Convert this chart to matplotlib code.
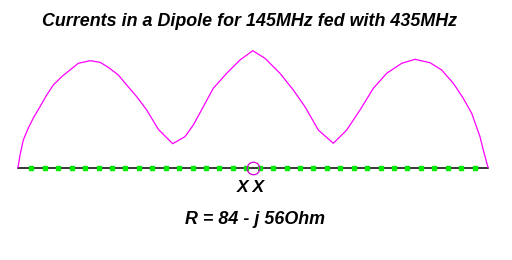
import numpy as np
import matplotlib
matplotlib.use("Agg")
import matplotlib.pyplot as plt

# current magnitude along the dipole (position in % of length, relative current)
pos = [0, 0.43, 1.13, 2.19, 3.26, 4.68, 6.11, 7.51, 9.30, 11.06, 12.83, 15.32, 17.45,
       19.21, 21.34, 23.13, 25.26, 27.38, 29.85, 32.91, 35.53, 37.30, 39.43, 41.55,
       44.40, 47.23, 49.94, 52.55, 55.74, 58.57, 61.06, 63.89, 67.09, 69.94, 72.77,
       75.60, 78.45, 81.64, 84.47, 87.66, 90.15, 92.62, 94.74, 96.53, 98.30, 99.00, 100]
current = [0, 12.5, 27.5, 39.5, 49.5, 60.8, 72.5, 82.5, 90.8, 97.5, 104.2, 106.8, 105.2,
           100.2, 92.5, 82.5, 70.8, 57.5, 38.2, 23.8, 30.8, 42.5, 60.8, 79.2,
           94.2, 107.5, 116.8, 109.2, 94.2, 77.5, 60.8, 37.5, 24.2, 37.5, 57.5,
           79.2, 94.2, 104.2, 108.2, 104.8, 97.5, 84.2, 69.2, 54.2, 30.8, 17.5, 0]
n_segments = 35
feed_pos = 50

title = "Currents in a Dipole for 145MHz fed with 435MHz"
feed_label = "X X"
impedance = "R = 84 - j 56Ohm"

W, H = 512, 260
fig = plt.figure(figsize=(W / 100, H / 100), dpi=100)
fig.patch.set_facecolor("white")

ax = fig.add_axes([18 / W, (H - 167.5) / H, 470 / W, 128 / H])
ax.set_xlim(0, 100)
ax.set_ylim(0, 128)
ax.axis("off")

# wire
ax.plot([0, 100], [0, 0], color="black", lw=1.1, clip_on=False, zorder=2)
# segment nodes
nodes = np.arange(1, n_segments) * 100 / n_segments
ax.plot(nodes, np.zeros_like(nodes), ls="none", marker="s", ms=3.4,
        color="#00ee00", mec="#00ee00", clip_on=False, zorder=3)
# current distribution
ax.plot(pos, current, color="#ff00ff", lw=0.9, clip_on=False, zorder=4)
# feed point
ax.plot([feed_pos], [0], ls="none", marker="o", ms=9, mfc="none",
        mec="#cc00cc", mew=0.9, clip_on=False, zorder=5)

font = dict(family="Liberation Sans", weight="bold", style="italic", color="black")
fig.text(250 / W, 1 - 22 / H, title, ha="center", va="center", fontsize=12.9, **font)
fig.text(251 / W, 1 - 187 / H, feed_label, ha="center", va="center", fontsize=12.5, **font)
fig.text(255 / W, 1 - 220 / H, impedance, ha="center", va="center", fontsize=12.9, **font)

fig.savefig("out.png", dpi=100, facecolor="white")
